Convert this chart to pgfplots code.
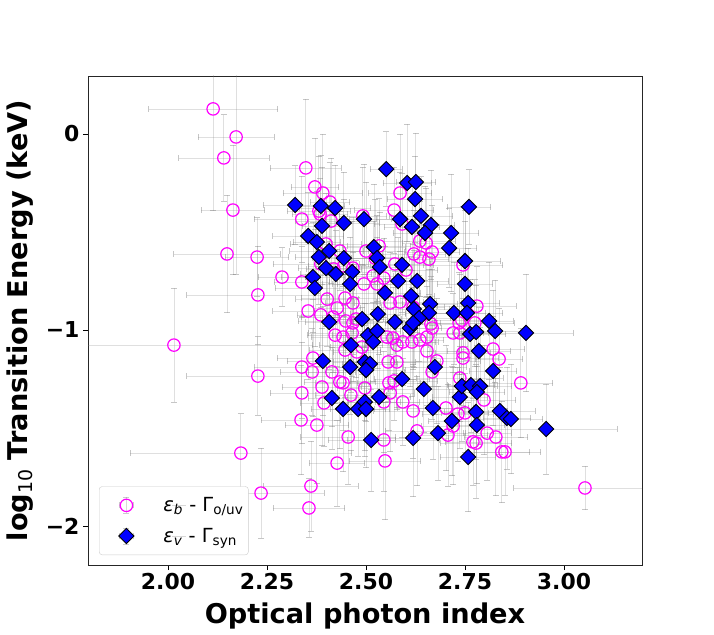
\documentclass[border=0pt]{standalone}
\usepackage{fontspec}
\setmainfont{DejaVu Sans}
\usepackage{pgfplots}
\pgfplotsset{compat=1.18}
\usepackage{pgfplotstable}
\definecolor{mag}{RGB}{255,0,255}
\definecolor{dblue}{RGB}{0,0,255}

\pgfplotstableread{
x y ex ey
2.114 0.128 0.163 0.52
2.172 -0.015 0.096 0.70
2.141 -0.122 0.114 0.22
2.164 -0.388 0.080 0.33
2.149 -0.612 0.135 0.30
2.225 -0.628 0.080 0.20
2.288 -0.730 0.060 0.15
2.227 -0.821 0.180 0.25
2.015 -1.077 0.350 0.29
2.227 -1.235 0.180 0.20
2.184 -1.628 0.280 0.20
2.235 -1.832 0.160 0.23
2.361 -1.796 0.120 0.23
2.356 -1.908 0.090 0.15
3.053 -1.806 0.180 0.11
2.338 -0.755 0.070 0.18
2.348 -0.173 0.090 0.35
2.371 -0.270 0.060 0.25
2.391 -0.301 0.100 0.30
2.409 -0.347 0.050 0.20
2.381 -0.393 0.080 0.28
2.338 -0.434 0.120 0.22
2.384 -0.408 0.070 0.18
2.412 -0.444 0.090 0.32
2.492 -0.418 0.060 0.25
2.586 -0.301 0.080 0.30
2.571 -0.388 0.100 0.22
2.591 -0.459 0.070 0.26
2.636 -0.546 0.090 0.20
2.652 -0.556 0.060 0.28
2.621 -0.612 0.080 0.22
2.636 -0.628 0.110 0.30
2.659 -0.638 0.050 0.18
2.667 -0.602 0.070 0.24
2.399 -0.561 0.090 0.26
2.434 -0.597 0.060 0.20
2.500 -0.597 0.100 0.35
2.533 -0.571 0.080 0.24
2.523 -0.633 0.060 0.30
2.386 -0.663 0.120 0.22
2.419 -0.689 0.070 0.28
2.444 -0.673 0.090 0.20
2.467 -0.684 0.060 0.26
2.495 -0.765 0.080 0.32
2.528 -0.765 0.100 0.24
2.545 -0.735 0.070 0.20
2.518 -0.724 0.050 0.28
2.573 -0.663 0.090 0.22
2.601 -0.694 0.080 0.26
2.745 -0.668 0.100 0.30
2.402 -0.842 0.080 0.24
2.427 -0.888 0.060 0.30
2.447 -0.837 0.110 0.22
2.467 -0.862 0.070 0.26
2.354 -0.903 0.090 0.35
2.386 -0.923 0.060 0.20
2.417 -0.934 0.080 0.28
2.449 -0.954 0.120 0.24
2.475 -0.944 0.070 0.30
2.561 -0.862 0.090 0.26
2.586 -0.857 0.060 0.22
2.619 -0.883 0.080 0.32
2.780 -0.878 0.100 0.20
2.742 -0.949 0.070 0.28
2.664 -0.969 0.090 0.24
2.467 -0.964 0.060 0.30
2.442 -1.036 0.080 0.26
2.465 -1.015 0.110 0.22
2.422 -1.026 0.070 0.35
2.447 -1.102 0.090 0.24
2.477 -1.112 0.060 0.28
2.490 -1.087 0.080 0.20
2.553 -1.036 0.100 0.30
2.568 -1.041 0.070 0.26
2.593 -1.061 0.090 0.22
2.616 -1.061 0.060 0.28
2.578 -1.077 0.080 0.32
2.578 -1.163 0.110 0.24
2.556 -1.163 0.070 0.20
2.366 -1.143 0.090 0.30
2.338 -1.189 0.120 0.26
2.364 -1.214 0.080 0.22
2.414 -1.214 0.060 0.28
2.434 -1.265 0.090 0.34
2.442 -1.270 0.070 0.24
2.389 -1.291 0.100 0.30
2.338 -1.321 0.080 0.26
2.394 -1.372 0.060 0.22
2.462 -1.332 0.090 0.28
2.497 -1.296 0.070 0.32
2.558 -1.270 0.080 0.24
2.571 -1.260 0.110 0.20
2.561 -1.321 0.060 0.30
2.545 -1.367 0.090 0.26
2.593 -1.367 0.070 0.22
2.336 -1.459 0.100 0.28
2.376 -1.485 0.080 0.30
2.455 -1.546 0.120 0.24
2.545 -1.561 0.140 0.26
2.548 -1.668 0.090 0.30
2.427 -1.679 0.070 0.22
2.629 -1.515 0.080 0.28
2.619 -1.413 0.100 0.24
2.667 -0.990 0.070 0.30
2.654 -1.036 0.090 0.26
2.636 -1.051 0.060 0.22
2.654 -1.107 0.080 0.28
2.679 -1.158 0.110 0.32
2.667 -1.214 0.070 0.24
2.720 -1.015 0.090 0.20
2.737 -1.015 0.060 0.30
2.735 -0.964 0.080 0.26
2.775 -0.964 0.100 0.22
2.745 -1.117 0.070 0.28
2.745 -1.143 0.090 0.24
2.821 -1.097 0.080 0.30
2.836 -1.148 0.060 0.26
2.737 -1.245 0.110 0.22
2.798 -1.357 0.080 0.28
2.702 -1.398 0.070 0.32
2.732 -1.429 0.090 0.24
2.750 -1.423 0.060 0.20
2.720 -1.490 0.080 0.30
2.707 -1.536 0.100 0.26
2.770 -1.571 0.070 0.22
2.778 -1.577 0.090 0.28
2.806 -1.526 0.060 0.24
2.828 -1.546 0.080 0.30
2.843 -1.622 0.070 0.26
2.851 -1.622 0.090 0.22
2.891 -1.270 0.080 0.28
}\circdata

\pgfplotstableread{
x y ex ey
2.551 -0.179 0.040 0.19
2.604 -0.250 0.060 0.30
2.626 -0.245 0.050 0.25
2.624 -0.332 0.070 0.22
2.760 -0.372 0.055 0.19
2.321 -0.362 0.080 0.20
2.386 -0.367 0.060 0.26
2.422 -0.378 0.090 0.22
2.495 -0.434 0.070 0.28
2.586 -0.434 0.060 0.24
2.639 -0.418 0.080 0.20
2.389 -0.469 0.050 0.30
2.444 -0.454 0.090 0.26
2.616 -0.474 0.070 0.22
2.664 -0.464 0.060 0.28
2.649 -0.505 0.080 0.24
2.715 -0.505 0.070 0.30
2.354 -0.520 0.090 0.22
2.376 -0.551 0.060 0.26
2.520 -0.577 0.080 0.32
2.710 -0.582 0.070 0.20
2.407 -0.597 0.100 0.28
2.381 -0.628 0.060 0.24
2.444 -0.633 0.080 0.30
2.528 -0.633 0.070 0.22
2.750 -0.648 0.090 0.26
2.535 -0.679 0.060 0.28
2.591 -0.668 0.080 0.24
2.399 -0.684 0.070 0.30
2.424 -0.714 0.090 0.22
2.465 -0.704 0.060 0.26
2.366 -0.730 0.080 0.28
2.460 -0.765 0.070 0.24
2.371 -0.786 0.100 0.30
2.581 -0.750 0.060 0.22
2.629 -0.750 0.080 0.26
2.750 -0.765 0.070 0.32
2.548 -0.811 0.090 0.24
2.614 -0.827 0.060 0.20
2.758 -0.862 0.080 0.28
2.662 -0.867 0.070 0.24
2.621 -0.893 0.090 0.30
2.659 -0.913 0.060 0.22
2.722 -0.913 0.080 0.26
2.530 -0.918 0.070 0.28
2.755 -0.913 0.090 0.24
2.811 -0.954 0.060 0.30
2.634 -0.939 0.080 0.22
2.573 -0.959 0.070 0.26
2.490 -0.944 0.100 0.28
2.407 -0.959 0.060 0.24
2.611 -0.990 0.080 0.30
2.619 -0.964 0.070 0.22
2.505 -1.026 0.090 0.26
2.528 -1.005 0.060 0.32
2.462 -1.077 0.080 0.24
2.518 -1.061 0.070 0.20
2.763 -1.020 0.090 0.28
2.778 -1.010 0.060 0.24
2.904 -1.015 0.120 0.30
2.785 -1.107 0.080 0.22
2.826 -1.005 0.070 0.26
2.391 -1.158 0.090 0.28
2.460 -1.189 0.060 0.24
2.497 -1.163 0.080 0.30
2.510 -1.173 0.070 0.22
2.500 -1.204 0.100 0.26
2.821 -1.209 0.060 0.28
2.674 -1.189 0.080 0.24
2.591 -1.250 0.070 0.30
2.646 -1.301 0.090 0.22
2.414 -1.347 0.060 0.26
2.442 -1.403 0.080 0.32
2.480 -1.403 0.070 0.24
2.497 -1.367 0.090 0.28
2.500 -1.403 0.060 0.30
2.533 -1.342 0.080 0.22
2.737 -1.342 0.070 0.26
2.742 -1.286 0.090 0.28
2.765 -1.281 0.060 0.24
2.788 -1.286 0.080 0.30
2.780 -1.316 0.070 0.22
2.669 -1.398 0.090 0.26
2.717 -1.464 0.060 0.28
2.778 -1.418 0.080 0.24
2.780 -1.485 0.070 0.30
2.838 -1.413 0.090 0.22
2.856 -1.449 0.060 0.26
2.866 -1.454 0.080 0.28
2.682 -1.526 0.070 0.24
2.619 -1.551 0.090 0.30
2.513 -1.561 0.060 0.26
2.955 -1.505 0.180 0.23
2.758 -1.648 0.070 0.28
}\diadata

\begin{document}
\begin{tikzpicture}
\useasboundingbox (-88bp,-70bp) rectangle (626bp,565bp);
\begin{axis}[
  scale only axis, width=554bp, height=489bp,
  at={(0,0)}, anchor=south west,
  xmin=1.798, xmax=3.197, ymin=-2.199, ymax=0.296,
  xtick={2,2.25,2.5,2.75,3}, xticklabels={2.00,2.25,2.50,2.75,3.00},
  ytick={-2,-1,0}, yticklabels={−2,−1,0},
  tick pos=left,
  tick align=outside, major tick length=5bp,
  tick style={black, line width=0.8bp},
  axis line style={black!85, line width=0.9bp},
  ticklabel style={font=\bfseries\fontsize{22}{26}\selectfont},
  xlabel={Optical photon index},
  ylabel={log{\mdseries\fontsize{19}{20}\selectfont\raisebox{-5bp}{10}} Transition Energy (keV)},
  label style={font=\bfseries\fontsize{27.3}{32}\selectfont},
  xlabel style={at={(axis description cs:0.5,-0.1043)}, anchor=center},
  ylabel style={at={(axis description cs:-0.1218,0.5)}, anchor=center},
  legend style={at={(0.0199,0.0204)}, anchor=south west, draw=black!20,
    rounded corners=3bp, fill=white, font=\fontsize{19.5}{22}\selectfont,
    inner xsep=3bp, inner ysep=9bp, row sep=11bp,
    /tikz/every odd column/.append style={column sep=-25bp}},
  legend cell align=left,
  legend image code/.code={
    \draw[gray, opacity=0.3, line width=0.8bp] (24bp,-8bp)--(24bp,8bp) (17bp,0)--(31bp,0);
    \draw[gray, opacity=0.4, line width=0.8bp] (21bp,-8bp)--(27bp,-8bp) (21bp,8bp)--(27bp,8bp) (17bp,-3bp)--(17bp,3bp) (31bp,-3bp)--(31bp,3bp);
    \draw[#1] plot coordinates {(24bp,0cm)};
    \path (0bp,0bp) (30bp,0bp);
  },
]
\addplot[only marks, mark=o, mark size=6.2bp, mark options={draw=mag, line width=1.2bp},
  error bars/.cd, x dir=both, x explicit, y dir=both, y explicit,
  error bar style={line width=0.8bp, draw=gray, opacity=0.25},
  error mark options={rotate=90, mark size=3bp, draw=gray, opacity=0.45, line width=0.8bp}]
  table[x=x, y=y, x error=ex, y error=ey]{\circdata};
\addlegendentry{{\itshape ε\textsubscript{b}} - Γ\textsubscript{o/uv}}
\addplot[only marks, mark=square*, mark size=5.4bp, mark options={rotate=45, fill=dblue, draw=black, line width=0.9bp},
  error bars/.cd, x dir=both, x explicit, y dir=both, y explicit,
  error bar style={line width=0.8bp, draw=gray, opacity=0.25},
  error mark options={rotate=90, mark size=3bp, draw=gray, opacity=0.45, line width=0.8bp}]
  table[x=x, y=y, x error=ex, y error=ey]{\diadata};
\addlegendentry{{\itshape ε\textsubscript{v}} - Γ\textsubscript{syn}}
\end{axis}
\end{tikzpicture}
\end{document}
